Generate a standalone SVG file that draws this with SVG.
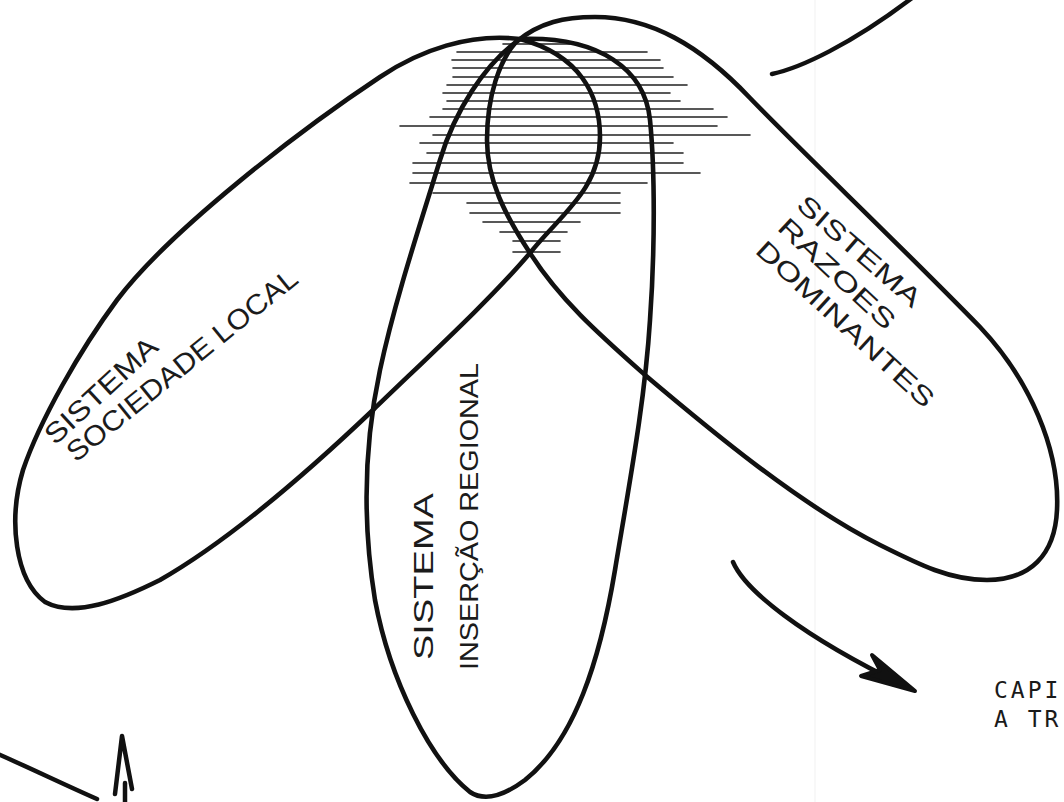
<svg xmlns="http://www.w3.org/2000/svg" width="1064" height="802" viewBox="0 0 1064 802">
<style>
.loop{fill:none;stroke:#111;stroke-width:4.6;stroke-linecap:round;stroke-linejoin:round}
.hatch line{stroke:#222;stroke-width:1.6;stroke-linecap:round}
.hand{font-family:"Liberation Sans","DejaVu Sans",sans-serif;fill:#1b1b1b}
.stroke{fill:none;stroke:#111;stroke-width:4.5;stroke-linecap:round;stroke-linejoin:round}
.typed{font-family:"DejaVu Sans Mono","Liberation Mono",monospace;font-size:23px;letter-spacing:3px;fill:#1a1a1a}
</style>
<rect width="1064" height="802" fill="#fff"/>
<line x1="815" y1="0" x2="815" y2="802" stroke="#f1f1f1" stroke-width="1"/>
<g id="hatching" class="hatch">
<line x1="503" y1="44" x2="570" y2="44"/>
<line x1="457" y1="52" x2="647" y2="52"/>
<line x1="452" y1="60" x2="660" y2="60"/>
<line x1="453" y1="68" x2="663" y2="68"/>
<line x1="453" y1="77" x2="673" y2="77"/>
<line x1="447" y1="85" x2="687" y2="85"/>
<line x1="443" y1="93" x2="670" y2="93"/>
<line x1="447" y1="101" x2="680" y2="101"/>
<line x1="443" y1="109" x2="713" y2="109"/>
<line x1="430" y1="117" x2="727" y2="117"/>
<line x1="400" y1="126" x2="717" y2="126"/>
<line x1="433" y1="135" x2="750" y2="135"/>
<line x1="420" y1="143" x2="673" y2="143"/>
<line x1="427" y1="153" x2="683" y2="153"/>
<line x1="413" y1="163" x2="683" y2="163"/>
<line x1="413" y1="173" x2="700" y2="173"/>
<line x1="410" y1="183" x2="647" y2="183"/>
<line x1="433" y1="193" x2="620" y2="193"/>
<line x1="467" y1="203" x2="620" y2="203"/>
<line x1="470" y1="213" x2="620" y2="213"/>
<line x1="483" y1="222" x2="580" y2="222"/>
<line x1="500" y1="232" x2="567" y2="232"/>
<line x1="513" y1="241" x2="560" y2="241"/>
<line x1="513" y1="252" x2="560" y2="252"/>
</g>
<g id="sociedade-local">
<path class="loop" d="M520,39 C470,33 420,50 380,77 C300,130 170,230 117,300 C80,350 40,420 23,470 C8,520 15,580 45,602 C75,618 120,600 160,580 C230,540 310,470 373,410 C430,355 490,300 530,253 C560,215 600,190 600,137 C600,95 580,55 520,39 Z"/>
<text class="hand" font-size="28" transform="translate(55,446) rotate(-42.7)" textLength="143" lengthAdjust="spacingAndGlyphs">SISTEMA</text>
<text class="hand" font-size="28" transform="translate(76,463) rotate(-39)" textLength="288" lengthAdjust="spacingAndGlyphs">SOCIEDADE LOCAL</text>
</g>
<g id="insercao-regional">
<path class="loop" d="M516,42 C485,65 455,110 440,160 C420,225 395,300 380,370 C365,440 362,520 375,600 C390,680 430,760 470,792 C485,802 505,795 525,780 C575,740 600,660 615,570 C630,480 645,400 650,320 C655,250 655,170 650,120 C645,70 600,36 520,39 Z"/>
<text class="hand" font-size="28" transform="translate(433,660) rotate(-90)" textLength="167" lengthAdjust="spacingAndGlyphs">SISTEMA</text>
<text class="hand" font-size="26" transform="translate(478,670) rotate(-90)" textLength="307" lengthAdjust="spacingAndGlyphs">INSERÇÃO REGIONAL</text>
</g>
<g id="razoes-dominantes">
<path class="loop" d="M516,42 C540,22 565,17 595,17 C650,17 700,45 750,98 C800,150 900,245 980,327 C1030,380 1060,450 1057,510 C1055,555 1030,580 987,580 C950,580 920,565 880,545 C800,505 710,430 645,375 C600,335 560,300 530,253 C505,215 487,180 487,140 C487,95 500,60 516,42 Z"/>
<text class="hand" font-size="26" transform="translate(795,207) rotate(41)" textLength="155" lengthAdjust="spacingAndGlyphs">SISTEMA</text>
<text class="hand" font-size="26" transform="translate(776,229) rotate(43)" textLength="150" lengthAdjust="spacingAndGlyphs">RAZOES</text>
<text class="hand" font-size="26" transform="translate(754,252) rotate(42.7)" textLength="232" lengthAdjust="spacingAndGlyphs">DOMINANTES</text>
</g>
<g id="connectors">
<path class="stroke" stroke-width="4" d="M772,74 C800,68 850,45 912,-2"/>
<path class="stroke" d="M733,562 C745,590 800,635 905,686"/>
<path d="M915,691 L872,655 L880,670 L861,676 Z" fill="#111" stroke="#111" stroke-width="4" stroke-linejoin="round"/>
<path class="stroke" stroke-width="5" d="M-2,754 C30,768 65,785 97,799"/>
<path class="stroke" stroke-width="5" d="M115,794 L122,736 L132,789 M125,783 L125,804"/>
</g>
<g id="caption">
<text class="typed" x="994" y="698">CAPI</text>
<text class="typed" x="994" y="727">A TR</text>
</g>
</svg>
